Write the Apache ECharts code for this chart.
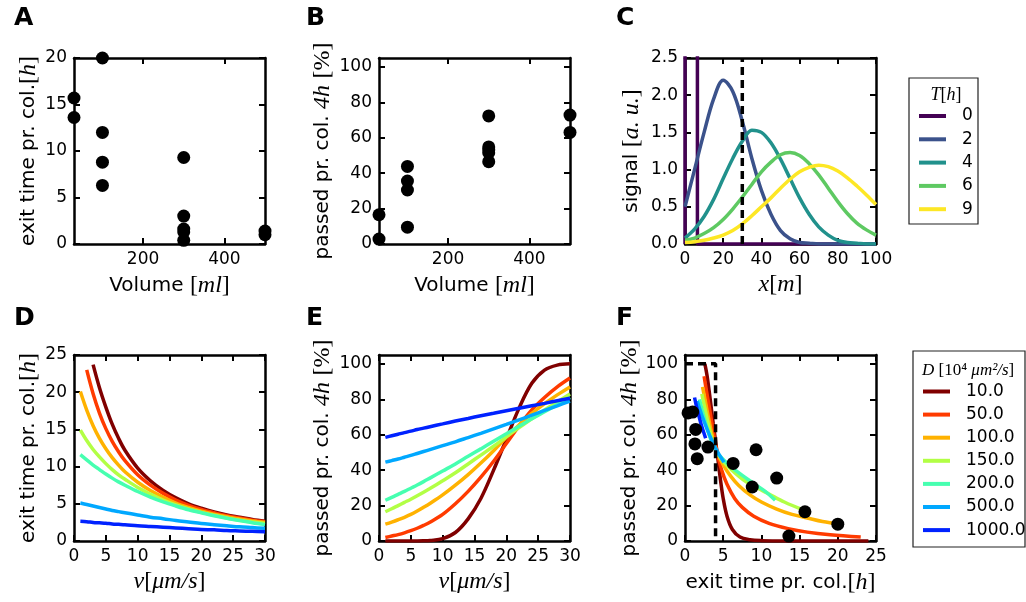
<!DOCTYPE html>
<html>
<head>
<meta charset="utf-8">
<script src="https://cdn.jsdelivr.net/npm/echarts@6/dist/echarts.min.js"></script>
<style>
html, body { margin: 0; padding: 0; background: #fff; }
#main { width: 1026px; height: 602px; }
</style>
</head>
<body>
<div id="main"></div>
<script>
// ---- measurements (A, B, F scatter) ----
const volume   = [30, 30, 100, 100, 100, 100, 300, 300, 300, 300, 300, 500, 500];
const exitTime = [15.7, 13.6, 20, 12.0, 8.8, 6.3, 9.3, 3.0, 1.3, 1.6, 0.4, 1.0, 1.4];
const passed   = [16.5, 2.8, 9.5, 35.5, 30.5, 43.8, 51.5, 53, 54.8, 46.5, 72.3, 72.8, 63];

// ---- C: signal profiles ----
const posX  = [0, 5, 10, 15, 20, 25, 30, 35, 40, 45, 50, 55, 60, 65, 70, 75, 80, 85, 90, 95, 100];
const sigT0 = [[0, 0], [0, 10], [6.5, 10], [6.5, 0], [100, 0]];
const sigT2 = [0.5, 1.0, 1.5, 1.95, 2.2, 2.05, 1.65, 1.15, 0.72, 0.4, 0.18, 0.07, 0.02, 0.01, 0, 0, 0, 0, 0, 0, 0];
const sigT4 = [0.08, 0.2, 0.37, 0.6, 0.88, 1.15, 1.38, 1.53, 1.5, 1.36, 1.14, 0.88, 0.62, 0.4, 0.23, 0.12, 0.05, 0.02, 0.01, 0, 0];
const sigT6 = [0.05, 0.08, 0.14, 0.22, 0.33, 0.47, 0.63, 0.8, 0.97, 1.1, 1.2, 1.23, 1.19, 1.08, 0.93, 0.75, 0.57, 0.41, 0.28, 0.19, 0.12];
const sigT9 = [0.02, 0.03, 0.05, 0.08, 0.12, 0.18, 0.27, 0.38, 0.5, 0.62, 0.75, 0.87, 0.97, 1.03, 1.06, 1.04, 0.98, 0.89, 0.78, 0.66, 0.53];
const tLabels = ['0', '2', '4', '6', '9'];
const tColors = ['#440154', '#3b528b', '#21918c', '#5ec962', '#fde725'];

// ---- D / E: model curves vs velocity ----
const vel = [1, 2, 3, 4, 5, 6, 7, 8, 10, 12, 14, 16, 18, 20, 22, 24, 26, 28, 30];
const dLabels = ['10.0', '50.0', '100.0', '150.0', '200.0', '500.0', '1000.0'];
const dColors = ['#800000', '#ff3b00', '#ffb200', '#b2ff45', '#46ffb0', '#00a8ff', '#0022ff'];

const exit10   = [null, null, 23.7, 20.6, 18.0, 15.7, 13.8, 12.2, 9.8, 8.1, 6.8, 5.8, 5.0, 4.4, 3.9, 3.5, 3.2, 2.9, 2.65];
const exit50   = [null, 23.0, 19.8, 17.2, 15.1, 13.4, 12.0, 10.8, 8.9, 7.5, 6.4, 5.5, 4.8, 4.25, 3.8, 3.4, 3.1, 2.8, 2.6];
const exit100  = [20.1, 17.6, 15.5, 13.8, 12.4, 11.2, 10.2, 9.3, 7.9, 6.8, 5.9, 5.1, 4.5, 4.0, 3.6, 3.25, 2.95, 2.7, 2.5];
const exit150  = [14.9, 13.5, 12.3, 11.3, 10.4, 9.6, 8.9, 8.3, 7.2, 6.3, 5.5, 4.85, 4.3, 3.85, 3.45, 3.1, 2.8, 2.55, 2.35];
const exit200  = [11.6, 10.9, 10.2, 9.6, 9.0, 8.45, 7.95, 7.5, 6.65, 5.9, 5.25, 4.7, 4.2, 3.8, 3.4, 3.05, 2.75, 2.45, 2.2];
const exit500  = [5.1, 4.9, 4.7, 4.5, 4.3, 4.1, 3.95, 3.8, 3.5, 3.2, 3.0, 2.75, 2.55, 2.35, 2.2, 2.05, 1.9, 1.8, 1.7];
const exit1000 = [2.65, 2.6, 2.5, 2.45, 2.4, 2.3, 2.25, 2.2, 2.05, 1.95, 1.85, 1.75, 1.65, 1.55, 1.5, 1.4, 1.35, 1.3, 1.25];

const pass10   = [0, 0, 0, 0, 0, 0, 0.1, 0.3, 1.3, 4.8, 12.5, 24, 40, 57.5, 75, 89, 96.5, 99.3, 100];
const pass50   = [2, 2.8, 3.6, 4.6, 5.8, 7.2, 8.8, 10.6, 15, 21, 28, 36, 45, 55, 65, 74, 81, 87, 92];
const pass100  = [9.5, 10.7, 12, 13.4, 15, 16.9, 19, 21.2, 26, 31.5, 37.5, 44, 51, 58.5, 65.5, 72, 77.5, 82.5, 87];
const pass150  = [16.5, 18.2, 20, 21.8, 23.6, 25.5, 27.5, 29.6, 34, 38.5, 43.5, 48.5, 53.5, 58.8, 64, 69, 74, 78.5, 83];
const pass200  = [23, 24.6, 26.3, 28, 29.8, 31.6, 33.5, 35.5, 39.5, 43.5, 47.8, 52, 56.3, 60.5, 64.8, 69, 73, 77, 81];
const pass500  = [44.5, 45.4, 46.3, 47.3, 48.3, 49.4, 50.5, 51.6, 53.8, 56, 58.4, 60.8, 63.3, 65.8, 68.4, 71, 73.7, 76.3, 79];
const pass1000 = [58.5, 59.4, 60.3, 61.2, 62, 62.9, 63.7, 64.5, 66.1, 67.7, 69.2, 70.7, 72.1, 73.5, 74.9, 76.3, 77.7, 79.2, 80.6];

// ---- F: passed vs exit time ----
const f10   = [[2.6, 100], [2.9, 93], [3.3, 80], [3.7, 66], [4.2, 50], [4.6, 36], [5.0, 24], [5.5, 14], [6.2, 6.5], [7.2, 2.2], [8.5, 0.7], [10, 0.2], [13, 0], [24, 0]];
const f50   = [[2.5, 93], [2.8, 85], [3.2, 75], [3.7, 62], [4.2, 50], [4.8, 40], [5.5, 32], [6.5, 24], [7.5, 19], [9, 14], [11, 10], [13.5, 7], [16, 5], [19, 3.5], [23, 2.2]];
const f100  = [[2.3, 87], [2.7, 78], [3.1, 69], [3.6, 59], [4.2, 50], [5, 43], [6, 36.5], [7, 31.5], [8.5, 26], [10, 22], [12, 18], [14, 15], [16, 13], [18, 11], [20.3, 9.5]];
const f150  = [[2.2, 83], [2.6, 75], [3.0, 67], [3.5, 58], [4.2, 50], [5, 45], [6, 40.5], [7.5, 35], [9, 31], [11, 26.5], [13, 22], [15.5, 17.5]];
const f200  = [[1.9, 80], [2.3, 73], [2.8, 65], [3.4, 57], [4.2, 50], [5, 46], [6, 42], [7.5, 37], [9, 32.5], [10.5, 28], [11.8, 23]];
const f500  = [[1.6, 79], [2.2, 71], [2.9, 63], [3.6, 56], [4.3, 50], [5.1, 44.5]];
const f1000 = [[1.25, 81], [1.5, 76], [1.8, 71], [2.1, 66], [2.4, 62], [2.7, 58]];

const cThreshold = [[30, 0], [30, 2.5]];
const fThreshold = [[0, 100], [4, 100], [4, 0]];

// tick labels
const ticksVol = [200, 400];
const ticksPct = [0, 20, 40, 60, 80, 100];
const ticksExit = [0, 5, 10, 15, 20];
const ticksPos = [0, 20, 40, 60, 80, 100];
const ticksSig = [0, 0.5, 1.0, 1.5, 2.0, 2.5];
const ticksVel = [0, 5, 10, 15, 20, 25, 30];
const ticksExitD = [0, 5, 10, 15, 20, 25];

const font = 'DejaVu Sans';
const serif = 'Liberation Serif';
const rich = {
  r: { fontFamily: serif, fontSize: 24, color: '#000' },
  i: { fontFamily: serif, fontStyle: 'italic', fontSize: 24, color: '#000' }
};
const exitName = 'exit time pr. col.{r|[}{i|h}{r|]}';
const passName = 'passed pr. col. {i|4h} {r|[%]}';

const xSpec = [
  { min: 30, max: 500, ticks: ticksVol, name: 'Volume {r|[}{i|ml}{r|]}', gap: 30 },
  { min: 30, max: 500, ticks: ticksVol, name: 'Volume {r|[}{i|ml}{r|]}', gap: 30 },
  { min: 0, max: 100, ticks: ticksPos, name: '{i|x}{r|[}{i|m}{r|]}', gap: 29 },
  { min: 0, max: 30, ticks: ticksVel, name: '{i|v}{r|[}{i|μm/s}{r|]}', gap: 29 },
  { min: 0, max: 30, ticks: ticksVel, name: '{i|v}{r|[}{i|μm/s}{r|]}', gap: 29 },
  { min: 0, max: 25, ticks: ticksExitD, name: exitName, gap: 30 }
];
const ySpec = [
  { min: 0, max: 20, ticks: ticksExit, name: exitName, gap: 33 },
  { min: 0, max: 105, ticks: ticksPct, name: passName, gap: 44 },
  { min: 0, max: 2.5, ticks: ticksSig, name: 'signal {r|[}{i|a. u.}{r|]}', gap: 41, fmt: v => v.toFixed(1) },
  { min: 0, max: 25, ticks: ticksExitD, name: exitName, gap: 33 },
  { min: 0, max: 105, ticks: ticksPct, name: passName, gap: 44 },
  { min: 0, max: 105, ticks: ticksPct, name: passName, gap: 42 }
];

const grid = [[74, 58], [379, 58], [685, 58], [74, 355], [379, 355], [685, 355]]
  .map(p => ({ left: p[0], top: p[1], width: 191, height: 186 }));

function makeAxis(g, s, position, mirror, vertical) {
  return {
    type: 'value', gridIndex: g, position: position,
    min: s.min, max: s.max,
    splitLine: { show: false },
    axisLine: { show: true, onZero: false, lineStyle: { color: '#000', width: 2.5 } },
    axisTick: { show: true, inside: true, length: 6, customValues: s.ticks,
      lineStyle: { color: '#000', width: 2 } },
    axisLabel: { show: !mirror, customValues: s.ticks, margin: 7, color: '#000',
      fontFamily: font, fontSize: 17, formatter: s.fmt },
    name: mirror ? '' : s.name,
    nameLocation: 'middle', nameGap: s.gap, nameRotate: vertical ? 90 : 0,
    nameTextStyle: { color: '#000', fontFamily: font, fontSize: 20, rich: rich }
  };
}

const xAxis = [], yAxis = [];
for (let i = 0; i < 6; i++) {
  xAxis.push(makeAxis(i, xSpec[i], 'bottom', false, false));
  yAxis.push(makeAxis(i, ySpec[i], 'left', false, true));
}
for (let i = 0; i < 6; i++) {
  xAxis.push(makeAxis(i, xSpec[i], 'top', true, false));
  yAxis.push(makeAxis(i, ySpec[i], 'right', true, true));
}

const series = [];
function dots(p, xs, ys) {
  series.push({ type: 'scatter', xAxisIndex: p, yAxisIndex: p, symbolSize: 13, z: 5,
    itemStyle: { color: '#000', opacity: 1 }, data: xs.map((x, i) => [x, ys[i]]) });
}
function curve(p, name, color, data, extra) {
  series.push(Object.assign({ type: 'line', name: name, xAxisIndex: p, yAxisIndex: p,
    showSymbol: false, symbol: 'none', smooth: 0.35,
    lineStyle: { color: color, width: 3.5 }, itemStyle: { color: color }, data: data }, extra || {}));
}
function dashed(p, data) {
  series.push({ type: 'line', xAxisIndex: p, yAxisIndex: p, symbol: 'none', z: 4,
    lineStyle: { color: '#000', width: 3.5, type: [8, 5] }, data: data });
}

dots(0, volume, exitTime);
dots(1, volume, passed);

curve(2, tLabels[0], tColors[0], sigT0, { smooth: false });
[sigT2, sigT4, sigT6, sigT9].forEach((s, k) => {
  curve(2, tLabels[k + 1], tColors[k + 1], posX.map((x, i) => [x, s[i]]));
});
dashed(2, cThreshold);

const exitD = [exit10, exit50, exit100, exit150, exit200, exit500, exit1000];
const passE = [pass10, pass50, pass100, pass150, pass200, pass500, pass1000];
const fCurves = [f10, f50, f100, f150, f200, f500, f1000];
exitD.forEach((s, k) => curve(3, dLabels[k], dColors[k], vel.map((v, i) => [v, s[i]])));
passE.forEach((s, k) => curve(4, dLabels[k], dColors[k], vel.map((v, i) => [v, s[i]])));
dashed(5, fThreshold);
fCurves.forEach((s, k) => curve(5, dLabels[k], dColors[k], s));
dots(5, exitTime, passed);

const letterStyle = { fontFamily: font, fontSize: 25, fontWeight: 'bold', color: '#000' };
const title = [['A', 14, 6], ['B', 306, 6], ['C', 616, 6], ['D', 14, 306], ['E', 306, 306], ['F', 616, 306]]
  .map(t => ({ text: t[0], left: t[1], top: t[2], padding: 0, textStyle: letterStyle }));

const legendBase = {
  orient: 'vertical', icon: 'rect', itemWidth: 27, itemHeight: 4, padding: 0,
  selectedMode: false,
  textStyle: { fontFamily: font, fontSize: 17, lineHeight: 20, color: '#000', padding: [0, 0, 0, 11] }
};
const legend = [
  Object.assign({}, legendBase, { data: tLabels, left: 919, top: 106, itemGap: 3.3 }),
  Object.assign({}, legendBase, { data: dLabels, left: 923, top: 381.5, itemGap: 3.1 })
];

const graphic = [
  { type: 'rect', shape: { x: 909, y: 78, width: 69, height: 146 },
    style: { fill: '#fff', stroke: '#222', lineWidth: 1.2 }, z: -1 },
  { type: 'rect', shape: { x: 913, y: 351, width: 112, height: 196 },
    style: { fill: '#fff', stroke: '#222', lineWidth: 1.2 }, z: -1 },
  { type: 'text', x: 946, y: 95,
    style: { text: '{i|T}{r|[}{i|h}{r|]}', align: 'center', verticalAlign: 'middle',
      rich: { i: { fontFamily: serif, fontStyle: 'italic', fontSize: 18 }, r: { fontFamily: serif, fontSize: 18 } } } },
  { type: 'text', x: 922, y: 371,
    style: { text: '{i|D}{r| [10⁴ }{i|μm²/s}{r|]}', align: 'left', verticalAlign: 'middle',
      rich: { i: { fontFamily: serif, fontStyle: 'italic', fontSize: 17 }, r: { fontFamily: serif, fontSize: 17 } } } }
];

const chart = echarts.init(document.getElementById('main'));
chart.setOption({
  animation: false,
  backgroundColor: '#fff',
  title: title,
  legend: legend,
  grid: grid,
  xAxis: xAxis,
  yAxis: yAxis,
  graphic: graphic,
  series: series
});
</script>
</body>
</html>
